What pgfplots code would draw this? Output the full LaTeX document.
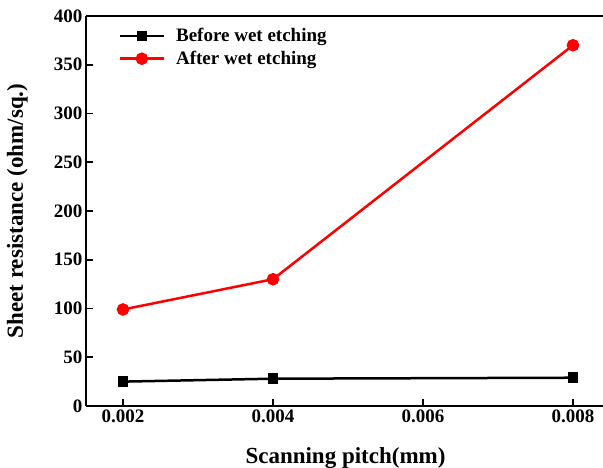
\documentclass[border=0pt]{standalone}
\usepackage{fontspec}
\setmainfont{Liberation Serif}
\usepackage{pgfplots}
\pgfplotsset{compat=1.18}
\begin{document}
\begin{tikzpicture}
\begin{axis}[
  scale only axis,
  width=525pt, height=390pt,
  xmin=0.0015067, xmax=0.008507,
  ymin=0, ymax=400,
  axis x line=box, axis y line=left,
  xtick={0.002,0.004,0.006,0.008},
  ytick={0,50,100,150,200,250,300,350,400},
  scaled x ticks=false,
  xticklabels={0.002,0.004,0.006,0.008},
  /pgf/number format/assume math mode=true,
  tick align=inside,
  xtick pos=bottom, ytick pos=left,
  major tick length=7pt,
  axis line style={line width=2pt, -},
  tick style={line width=1.6pt, black},
  ticklabel style={font=\fontsize{19}{22}\selectfont\bfseries},
  xlabel={Scanning pitch(mm)},
  ylabel={Sheet resistance (ohm/sq.)},
  label style={font=\fontsize{23}{26}\selectfont\bfseries},
  xlabel style={at={(axis description cs:0.5,-0.1462)}, anchor=base, xshift=-3pt},
  ylabel style={at={(axis description cs:-0.12,0.5)}, anchor=base, rotate=0},
  legend style={draw=none, fill=none, at={(axis description cs:0.056,0.979)}, anchor=north west,
    font=\fontsize{19}{22}\selectfont\bfseries, row sep=4pt,
    /tikz/every odd column/.append style={column sep=9pt}},
  legend cell align=left,
  legend image code/.code={\draw[#1] (0pt,0pt) -- (44pt,0pt); \path[#1] plot coordinates {(22pt,0pt)};},
]
\addplot[black, line width=2.5pt, mark=square*, mark size=4pt, mark options={solid}] coordinates {
  (0.002,25) (0.004,28) (0.008,29)
};
\addlegendentry{Before wet etching}
\addplot[red, line width=2.5pt, mark=*, mark size=5pt, mark options={solid}] coordinates {
  (0.002,99) (0.004,130) (0.008,370)
};
\addlegendentry{After wet etching}
\end{axis}
\pgfresetboundingbox
\path[use as bounding box] ([shift={(-86pt,-62pt)}]current axis.south west) rectangle ([shift={(517pt,406pt)}]current axis.south west);
\end{tikzpicture}
\end{document}
